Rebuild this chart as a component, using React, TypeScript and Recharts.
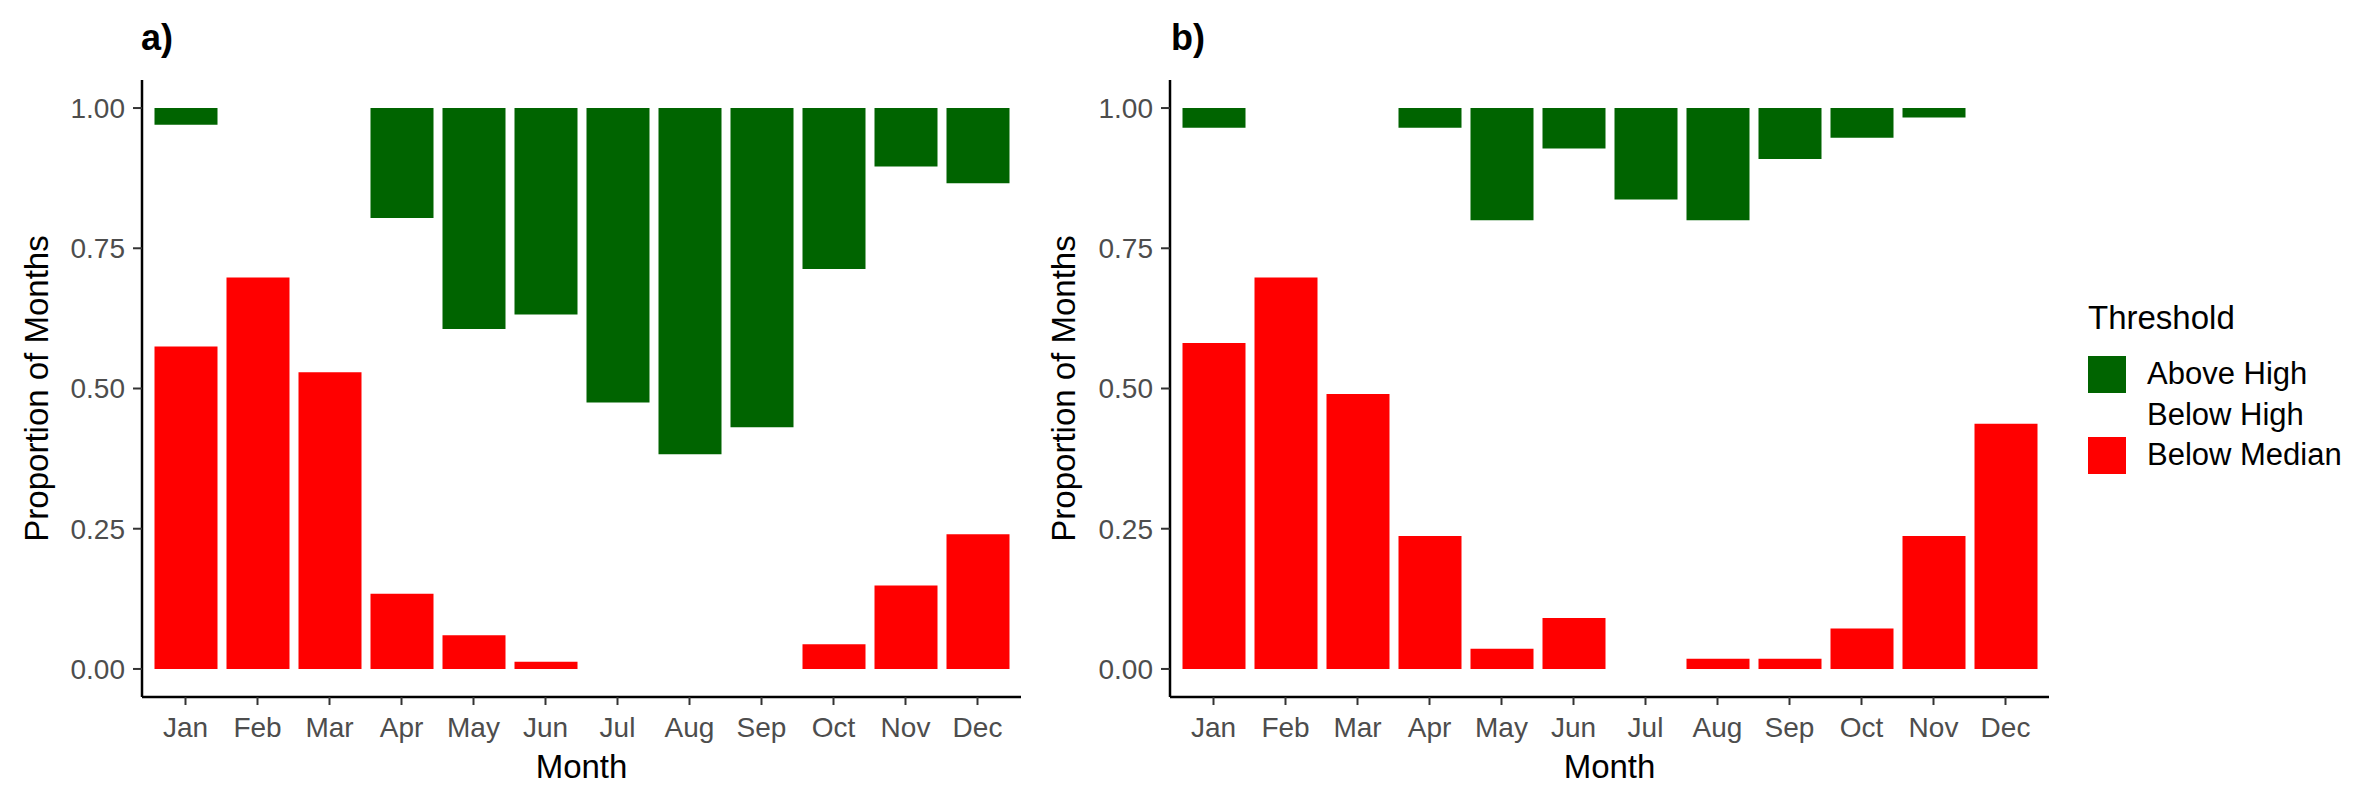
import { BarChart, Bar, XAxis, YAxis } from "recharts";

const months = ["Jan", "Feb", "Mar", "Apr", "May", "Jun", "Jul", "Aug", "Sep", "Oct", "Nov", "Dec"];

// panel a
const belowMedianA = [0.575, 0.698, 0.529, 0.134, 0.06, 0.013, 0, 0, 0, 0.044, 0.149, 0.24];
const belowHighA = [0.395, 0.302, 0.471, 0.67, 0.546, 0.619, 0.475, 0.383, 0.431, 0.669, 0.747, 0.626];
const aboveHighA = [0.03, 0, 0, 0.196, 0.394, 0.368, 0.525, 0.617, 0.569, 0.287, 0.104, 0.134];

// panel b
const belowMedianB = [0.581, 0.698, 0.49, 0.237, 0.036, 0.091, 0, 0.018, 0.018, 0.072, 0.237, 0.437];
const belowHighB = [0.384, 0.302, 0.51, 0.728, 0.764, 0.837, 0.837, 0.782, 0.891, 0.875, 0.746, 0.563];
const aboveHighB = [0.035, 0, 0, 0.035, 0.2, 0.072, 0.163, 0.2, 0.091, 0.053, 0.017, 0];

const yTicks = [0, 0.25, 0.5, 0.75, 1];

const GREEN = "#006400";
const RED = "#FF0000";
const FONT = "'Liberation Sans', Arial, sans-serif";

const build = (bm: number[], bh: number[], ah: number[]) =>
    months.map((m, i) => ({
        month: m,
        "Below Median": bm[i],
        "Below High": bh[i],
        "Above High": ah[i],
    }));

const dataA = build(belowMedianA, belowHighA, aboveHighA);
const dataB = build(belowMedianB, belowHighB, aboveHighB);

const tickStyle = { fontSize: 28, fill: "#4D4D4D", fontFamily: FONT };
const titleStyle = { fontSize: 33, fill: "#000", fontFamily: FONT, textAnchor: "middle" as const };

function Panel({
    data,
    width,
    yAxisWidth,
    rightMargin,
    yLabelOffset,
}: {
    data: any[];
    width: number;
    yAxisWidth: number;
    rightMargin: number;
    yLabelOffset: number;
}) {
    return (
        <BarChart
            width={width}
            height={798}
            data={data}
            margin={{ top: 80, right: rightMargin, bottom: 0, left: 0 }}
        >
            <XAxis
                dataKey="month"
                interval={0}
                height={101}
                padding={{ left: 7.5, right: 7.5 }}
                tick={tickStyle}
                tickSize={8}
                tickMargin={12}
                tickLine={{ stroke: "#333", strokeWidth: 2 }}
                axisLine={{ stroke: "#000", strokeWidth: 2.5 }}
                label={{ value: "Month", position: "insideBottom", offset: 20, style: titleStyle }}
            />
            <YAxis
                type="number"
                domain={[-0.05, 1.05]}
                ticks={yTicks}
                width={yAxisWidth}
                tick={tickStyle}
                tickSize={9}
                tickMargin={8}
                tickFormatter={(v: number) => v.toFixed(2)}
                tickLine={{ stroke: "#333", strokeWidth: 2 }}
                axisLine={{ stroke: "#000", strokeWidth: 2.5 }}
                label={{
                    value: "Proportion of Months",
                    angle: -90,
                    position: "insideLeft",
                    offset: yLabelOffset,
                    style: titleStyle,
                }}
            />
            <Bar dataKey="Below Median" stackId="s" fill={RED} barSize={63} isAnimationActive={false} />
            <Bar dataKey="Below High" stackId="s" fill="none" barSize={63} isAnimationActive={false} />
            <Bar dataKey="Above High" stackId="s" fill={GREEN} barSize={63} isAnimationActive={false} />
        </BarChart>
    );
}

const legendItems = [
    { label: "Above High", color: GREEN },
    { label: "Below High", color: "transparent" },
    { label: "Below Median", color: RED },
];

export default function App() {
    return (
        <div
            style={{
                position: "relative",
                margin: -8,
                width: 2358,
                height: 798,
                background: "#fff",
                fontFamily: FONT,
                overflow: "hidden",
            }}
        >
            <div style={{ position: "absolute", left: 0, top: 0 }}>
                <Panel data={dataA} width={1040} yAxisWidth={142} rightMargin={19} yLabelOffset={36} />
            </div>
            <div style={{ position: "absolute", left: 1040, top: 0 }}>
                <Panel data={dataB} width={1318} yAxisWidth={130} rightMargin={309} yLabelOffset={23} />
            </div>
            <div style={{ position: "absolute", left: 141, top: 18, fontSize: 36, fontWeight: "bold", lineHeight: "40px" }}>
                a)
            </div>
            <div style={{ position: "absolute", left: 1171, top: 18, fontSize: 36, fontWeight: "bold", lineHeight: "40px" }}>
                b)
            </div>
            <div style={{ position: "absolute", left: 2088, top: 298 }}>
                <div style={{ fontSize: 33, lineHeight: "40px", color: "#000" }}>Threshold</div>
                <div style={{ marginTop: 16 }}>
                    {legendItems.map((it) => (
                        <div key={it.label} style={{ display: "flex", alignItems: "center", height: 40.5 }}>
                            <div style={{ width: 38, height: 37, background: it.color }} />
                            <div style={{ marginLeft: 21, fontSize: 31, color: "#000" }}>{it.label}</div>
                        </div>
                    ))}
                </div>
            </div>
        </div>
    );
}
